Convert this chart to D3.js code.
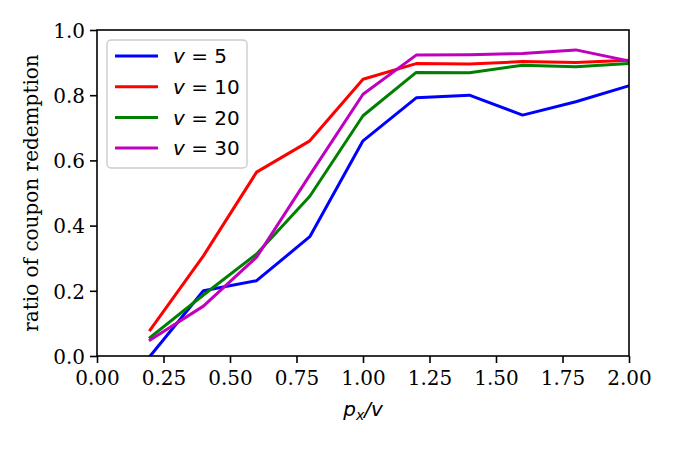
<!DOCTYPE html>
<html lang="en">
<head>
<meta charset="utf-8" />
<title>Coupon redemption</title>
<script src="https://d3js.org/d3.v7.min.js"></script>
<style>
    body { margin: 0; background: #fff; }
    .tick text { font-family: "DejaVu Serif", serif; font-size: 20px; fill: #000; }
    .tick line { stroke: #000; stroke-width: 1.6px; }
    .domain { display: none; }
</style>
</head>
<body>
<svg width="675" height="450"></svg>
<script>
    // data
    const xs = [0.2, 0.4, 0.6, 0.8, 1.0, 1.2, 1.4, 1.6, 1.8, 2.0];
    const v5  = [0.000, 0.200, 0.231, 0.366, 0.660, 0.792, 0.800, 0.739, 0.780, 0.829];
    const v10 = [0.080, 0.307, 0.564, 0.660, 0.849, 0.897, 0.896, 0.903, 0.900, 0.907];
    const v20 = [0.057, 0.187, 0.313, 0.490, 0.737, 0.870, 0.869, 0.892, 0.887, 0.897];
    const v30 = [0.049, 0.153, 0.303, 0.555, 0.803, 0.923, 0.924, 0.928, 0.939, 0.905];
    const seriesNames = ["5", "10", "20", "30"];
    const seriesColors = ["#0000ff", "#ff0000", "#008000", "#bf00bf"];
    const xTicks = [0, 0.25, 0.5, 0.75, 1.0, 1.25, 1.5, 1.75, 2.0];
    const yTicks = [0, 0.2, 0.4, 0.6, 0.8, 1.0];

    const series = [v5, v10, v20, v30].map((vals, i) => ({
        name: seriesNames[i],
        color: seriesColors[i],
        points: xs.map((x, j) => ({ x: x, y: vals[j] }))
    }));

    const svg = d3.select("svg");
    const margin = { top: 30, right: 46, bottom: 94, left: 97 };
    const width = +svg.attr("width");
    const height = +svg.attr("height");

    const x = d3.scaleLinear().domain([0, 2]).range([margin.left, width - margin.right]);
    const y = d3.scaleLinear().domain([0, 1]).range([height - margin.bottom, margin.top]);

    svg.append("clipPath").attr("id", "plot")
        .append("rect")
        .attr("x", x(0)).attr("y", y(1))
        .attr("width", x(2) - x(0)).attr("height", y(0) - y(1));

    const line = d3.line().x(d => x(d.x)).y(d => y(d.y));

    svg.append("g")
        .attr("clip-path", "url(#plot)")
        .selectAll("path")
        .data(series)
        .join("path")
        .attr("d", d => line(d.points))
        .attr("fill", "none")
        .attr("stroke", d => d.color)
        .attr("stroke-width", 3)
        .attr("stroke-linejoin", "round")
        .attr("stroke-linecap", "square");

    // axes
    svg.append("g")
        .attr("transform", `translate(0,${y(0)})`)
        .call(d3.axisBottom(x).tickValues(xTicks).tickFormat(d3.format(".2f")).tickSize(7).tickPadding(8));

    svg.append("g")
        .attr("transform", `translate(${x(0)},0)`)
        .call(d3.axisLeft(y).tickValues(yTicks).tickFormat(d3.format(".1f")).tickSize(7).tickPadding(5))
        .selectAll(".tick text").attr("dy", "0.36em");

    // frame
    svg.append("rect")
        .attr("x", x(0)).attr("y", y(1))
        .attr("width", x(2) - x(0)).attr("height", y(0) - y(1))
        .attr("fill", "none")
        .attr("stroke", "#000")
        .attr("stroke-width", 1.6);

    // axis labels
    const xl = svg.append("text")
        .attr("x", (x(0) + x(2)) / 2)
        .attr("y", 416)
        .attr("text-anchor", "middle")
        .style("font-family", "'DejaVu Sans', sans-serif")
        .style("font-size", "20px")
        .style("font-style", "italic");
    xl.append("tspan").text("p");
    xl.append("tspan").attr("dy", 4).style("font-size", "14px").text("x");
    xl.append("tspan").attr("dy", -4).text("/v");

    svg.append("text")
        .attr("transform", "rotate(-90)")
        .attr("x", -(y(0) + y(1)) / 2)
        .attr("y", 38)
        .attr("text-anchor", "middle")
        .style("font-family", "'DejaVu Serif', serif")
        .style("font-size", "20px")
        .text("ratio of coupon redemption");

    // legend
    const legend = svg.append("g");
    legend.append("rect")
        .attr("x", 107).attr("y", 40)
        .attr("width", 140).attr("height", 128)
        .attr("rx", 4)
        .attr("fill", "#fff").attr("fill-opacity", 0.8)
        .attr("stroke", "#cccccc").attr("stroke-width", 1.4);

    const rows = legend.selectAll("g.row")
        .data(series)
        .join("g")
        .attr("class", "row")
        .attr("transform", (d, i) => `translate(0,${56 + i * 30.7})`);

    rows.append("line")
        .attr("x1", 115).attr("x2", 158)
        .attr("stroke", d => d.color)
        .attr("stroke-width", 3);

    const lt = rows.append("text")
        .attr("x", 173)
        .attr("dy", "0.36em")
        .style("font-family", "'DejaVu Sans', sans-serif")
        .style("font-size", "20px");
    lt.append("tspan").style("font-style", "italic").text("v");
    lt.append("tspan").text(d => " = " + d.name);
</script>
</body>
</html>
